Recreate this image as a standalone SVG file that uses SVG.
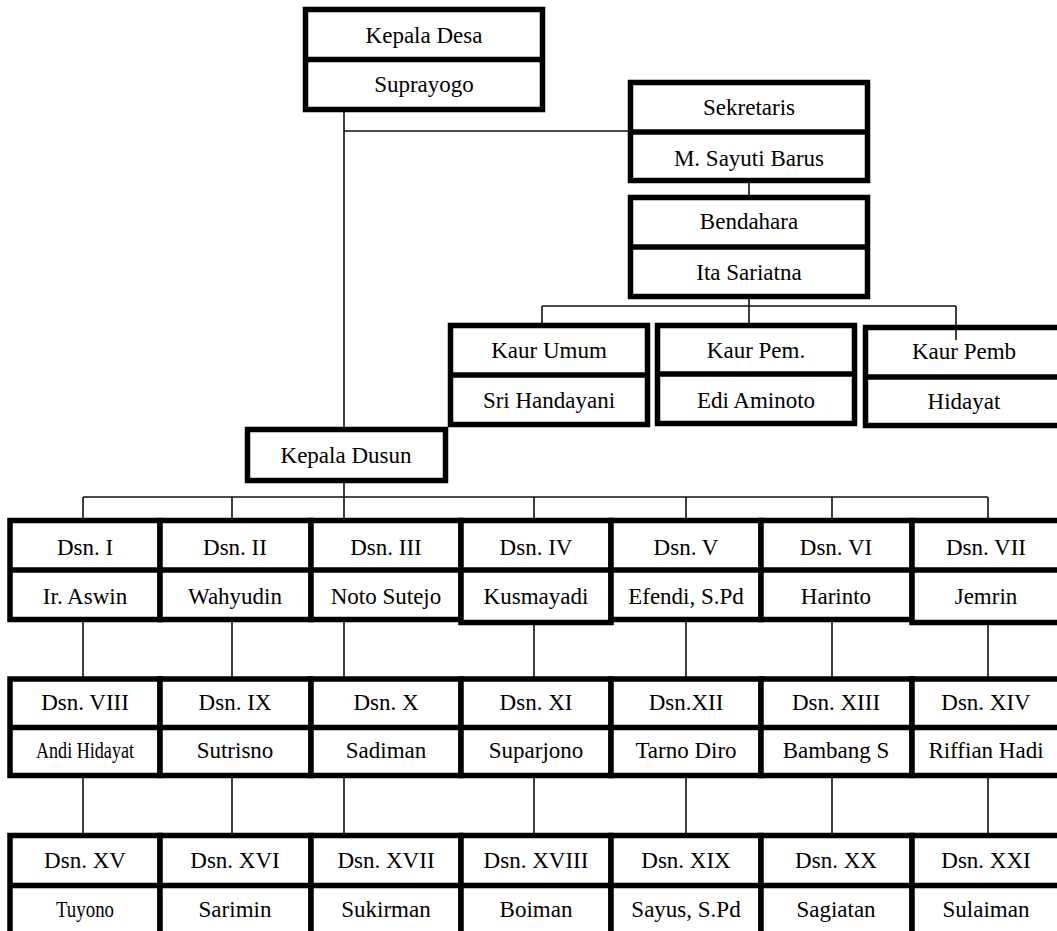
<svg xmlns="http://www.w3.org/2000/svg" width="1057" height="931" viewBox="0 0 1057 931" font-family="'Liberation Serif', 'Times New Roman', Times, 'DejaVu Serif', serif">
<style>
.box{fill:#fff;stroke:#000;stroke-width:5.5;stroke-linejoin:miter}
.div{stroke:#000;stroke-width:5.5}
.ln{stroke:#111;stroke-width:1.6;fill:none}
text{font-family:'Liberation Serif', 'Times New Roman', Times, 'DejaVu Serif', serif;font-size:23px;fill:#000;text-anchor:middle}
</style>
<rect width="1057" height="931" fill="#fff"/>
<g id="connectors">
<path class="ln" d="M344 112V427M344 131H628"/>
<path class="ln" d="M749 183V195M749 299V306M542 306H956M542 306V323M749 306V323M956 306V340"/>
<path class="ln" d="M344 483V497M83 497H988"/>
<path class="ln" d="M83 497V518M232 497V518M344 497V518M534 497V518M686 497V518M832 497V518M988 497V518"/>
<path class="ln" d="M83 622V677M232 622V677M344 622V677M534 622V677M686 622V677M832 622V677M988 622V677"/>
<path class="ln" d="M83 778V833M232 778V833M344 778V833M534 778V833M686 778V833M832 778V833M988 778V833"/>
</g>
<g id="kepala-desa"><rect class="box" x="305.5" y="9.5" width="237" height="100"/><line class="div" x1="305.5" y1="59.5" x2="542.5" y2="59.5"/><text x="424" y="43">Kepala Desa</text><text x="424" y="92">Suprayogo</text></g>
<g id="sekretaris"><rect class="box" x="630.5" y="82.5" width="237" height="98"/><line class="div" x1="630.5" y1="132" x2="867.5" y2="132"/><text x="749" y="115">Sekretaris</text><text x="749" y="166">M. Sayuti Barus</text></g>
<g id="bendahara"><rect class="box" x="630.5" y="197.5" width="237" height="99"/><line class="div" x1="630.5" y1="247" x2="867.5" y2="247"/><text x="749" y="229">Bendahara</text><text x="749" y="280">Ita Sariatna</text></g>
<g id="kaur-umum"><rect class="box" x="450.5" y="325.5" width="197" height="99"/><line class="div" x1="450.5" y1="375" x2="647.5" y2="375"/><text x="549" y="358">Kaur Umum</text><text x="549" y="408">Sri Handayani</text></g>
<g id="kaur-pem"><rect class="box" x="657.5" y="325.5" width="197" height="98"/><line class="div" x1="657.5" y1="374" x2="854.5" y2="374"/><text x="756" y="358">Kaur Pem.</text><text x="756" y="408">Edi Aminoto</text></g>
<g id="kaur-pemb"><rect class="box" x="865.5" y="327.5" width="197" height="98"/><path class="ln" d="M956 327V340"/><line class="div" x1="865.5" y1="377" x2="1062.5" y2="377"/><text x="964" y="359">Kaur Pemb</text><text x="964" y="409">Hidayat</text></g>
<g id="kepala-dusun"><rect class="box" x="247.5" y="429.5" width="198" height="51"/><text x="346" y="463">Kepala Dusun</text></g>
<g id="dsn-1"><rect class="box" x="10" y="520.5" width="150" height="99"/><line class="div" x1="10" y1="570" x2="160" y2="570"/><text x="85" y="555">Dsn. I</text><text x="85" y="604">Ir. Aswin</text></g>
<g id="dsn-2"><rect class="box" x="160" y="520.5" width="151" height="99"/><line class="div" x1="160" y1="570" x2="311" y2="570"/><text x="235" y="555">Dsn. II</text><text x="235" y="604">Wahyudin</text></g>
<g id="dsn-3"><rect class="box" x="311" y="520.5" width="150" height="99"/><line class="div" x1="311" y1="570" x2="461" y2="570"/><text x="386" y="555">Dsn. III</text><text x="386" y="604">Noto Sutejo</text></g>
<g id="dsn-4"><rect class="box" x="461" y="520.5" width="150" height="102"/><line class="div" x1="461" y1="570" x2="611" y2="570"/><text x="536" y="555">Dsn. IV</text><text x="536" y="604">Kusmayadi</text></g>
<g id="dsn-5"><rect class="box" x="611" y="520.5" width="150" height="99"/><line class="div" x1="611" y1="570" x2="761" y2="570"/><text x="686" y="555">Dsn. V</text><text x="686" y="604">Efendi, S.Pd</text></g>
<g id="dsn-6"><rect class="box" x="761" y="520.5" width="151" height="99"/><line class="div" x1="761" y1="570" x2="912" y2="570"/><text x="836" y="555">Dsn. VI</text><text x="836" y="604">Harinto</text></g>
<g id="dsn-7"><rect class="box" x="912" y="520.5" width="150" height="102"/><line class="div" x1="912" y1="570" x2="1062" y2="570"/><text x="986" y="555">Dsn. VII</text><text x="986" y="604">Jemrin</text></g>
<g id="dsn-8"><rect class="box" x="10" y="679" width="150" height="96.5"/><line class="div" x1="10" y1="727.5" x2="160" y2="727.5"/><text x="85" y="710">Dsn. VIII</text><text x="85" y="758" textLength="98" lengthAdjust="spacingAndGlyphs">Andi Hidayat</text></g>
<g id="dsn-9"><rect class="box" x="160" y="679" width="151" height="96.5"/><line class="div" x1="160" y1="727.5" x2="311" y2="727.5"/><text x="235" y="710">Dsn. IX</text><text x="235" y="758">Sutrisno</text></g>
<g id="dsn-10"><rect class="box" x="311" y="679" width="150" height="96.5"/><line class="div" x1="311" y1="727.5" x2="461" y2="727.5"/><text x="386" y="710">Dsn. X</text><text x="386" y="758">Sadiman</text></g>
<g id="dsn-11"><rect class="box" x="461" y="679" width="150" height="96.5"/><line class="div" x1="461" y1="727.5" x2="611" y2="727.5"/><text x="536" y="710">Dsn. XI</text><text x="536" y="758">Suparjono</text></g>
<g id="dsn-12"><rect class="box" x="611" y="679" width="150" height="96.5"/><line class="div" x1="611" y1="727.5" x2="761" y2="727.5"/><text x="686" y="710">Dsn.XII</text><text x="686" y="758">Tarno Diro</text></g>
<g id="dsn-13"><rect class="box" x="761" y="679" width="151" height="96.5"/><line class="div" x1="761" y1="727.5" x2="912" y2="727.5"/><text x="836" y="710">Dsn. XIII</text><text x="836" y="758">Bambang S</text></g>
<g id="dsn-14"><rect class="box" x="912" y="679" width="150" height="96.5"/><line class="div" x1="912" y1="727.5" x2="1062" y2="727.5"/><text x="986" y="710">Dsn. XIV</text><text x="986" y="758">Riffian Hadi</text></g>
<g id="dsn-15"><rect class="box" x="10" y="835.5" width="150" height="110"/><line class="div" x1="10" y1="885.5" x2="160" y2="885.5"/><text x="85" y="868">Dsn. XV</text><text x="85" y="917" textLength="58" lengthAdjust="spacingAndGlyphs">Tuyono</text></g>
<g id="dsn-16"><rect class="box" x="160" y="835.5" width="151" height="110"/><line class="div" x1="160" y1="885.5" x2="311" y2="885.5"/><text x="235" y="868">Dsn. XVI</text><text x="235" y="917">Sarimin</text></g>
<g id="dsn-17"><rect class="box" x="311" y="835.5" width="150" height="110"/><line class="div" x1="311" y1="885.5" x2="461" y2="885.5"/><text x="386" y="868">Dsn. XVII</text><text x="386" y="917">Sukirman</text></g>
<g id="dsn-18"><rect class="box" x="461" y="835.5" width="150" height="110"/><line class="div" x1="461" y1="885.5" x2="611" y2="885.5"/><text x="536" y="868">Dsn. XVIII</text><text x="536" y="917">Boiman</text></g>
<g id="dsn-19"><rect class="box" x="611" y="835.5" width="150" height="110"/><line class="div" x1="611" y1="885.5" x2="761" y2="885.5"/><text x="686" y="868">Dsn. XIX</text><text x="686" y="917">Sayus, S.Pd</text></g>
<g id="dsn-20"><rect class="box" x="761" y="835.5" width="151" height="110"/><line class="div" x1="761" y1="885.5" x2="912" y2="885.5"/><text x="836" y="868">Dsn. XX</text><text x="836" y="917">Sagiatan</text></g>
<g id="dsn-21"><rect class="box" x="912" y="835.5" width="150" height="110"/><line class="div" x1="912" y1="885.5" x2="1062" y2="885.5"/><text x="986" y="868">Dsn. XXI</text><text x="986" y="917">Sulaiman</text></g>
</svg>
